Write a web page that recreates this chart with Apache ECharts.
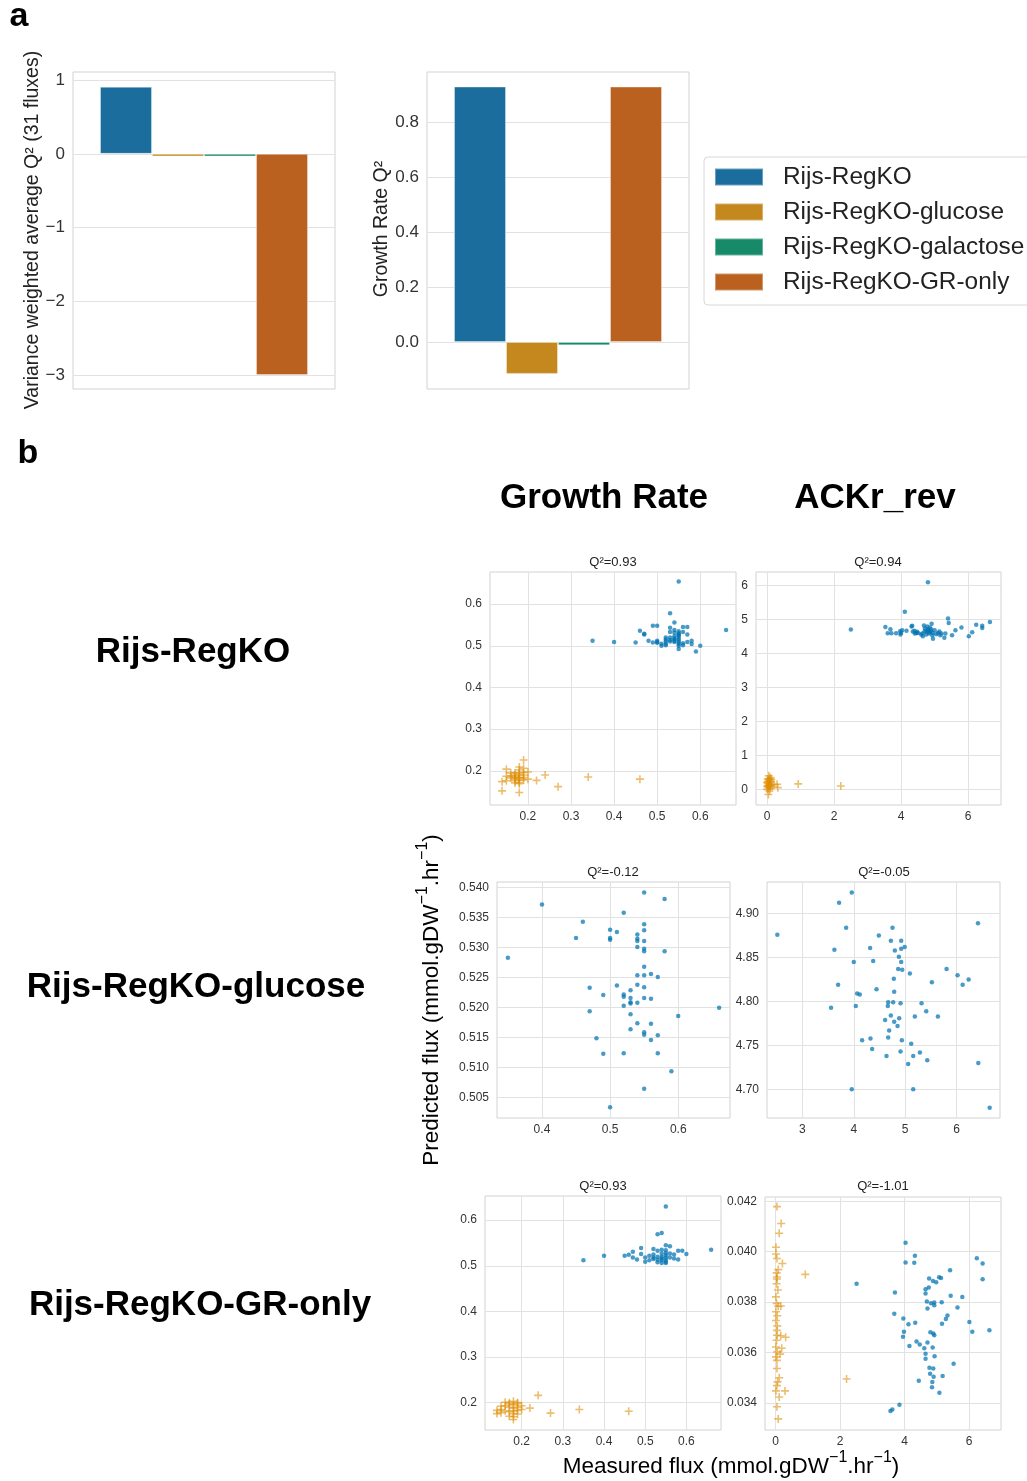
<!DOCTYPE html>
<html><head><meta charset="utf-8">
<script src="https://cdn.jsdelivr.net/npm/echarts@6/dist/echarts.min.js"></script>
<style>html,body{margin:0;padding:0;background:#fff}#c{width:1027px;height:1481px}</style>
</head><body><div id="c"></div>
<script>
// ---------- DATA ----------
const barCategories = ['Rijs-RegKO','Rijs-RegKO-glucose','Rijs-RegKO-galactose','Rijs-RegKO-GR-only'];
const barColors = ['#1a6d9c','#c4881f','#168a69','#ba611f'];
const fluxQ2 = [0.91, -0.035, -0.035, -3.0];
const growthQ2 = [0.929, -0.116, -0.012, 0.929];
const scatterTitles = ['Q²=0.93','Q²=0.94','Q²=-0.12','Q²=-0.05','Q²=0.93','Q²=-1.01'];
const colTitles = ['Growth Rate','ACKr_rev'];
const rowTitles = ['Rijs-RegKO','Rijs-RegKO-glucose','Rijs-RegKO-GR-only'];

const regkoGrowthGlc = [[0.35,0.512],[0.40,0.509],[0.45,0.508],[0.46,0.536],[0.47,0.529],[0.47,0.527],[0.48,0.512],[0.49,0.548],[0.49,0.508],[0.50,0.548],[0.50,0.512],[0.50,0.507],[0.50,0.509],[0.51,0.505],[0.51,0.500],[0.52,0.520],[0.52,0.511],[0.52,0.505],[0.52,0.501],[0.52,0.515],[0.53,0.578],[0.53,0.543],[0.53,0.533],[0.53,0.520],[0.53,0.514],[0.53,0.510],[0.54,0.556],[0.54,0.538],[0.54,0.531],[0.54,0.523],[0.54,0.518],[0.54,0.515],[0.54,0.512],[0.54,0.509],[0.55,0.654],[0.55,0.535],[0.55,0.530],[0.55,0.525],[0.55,0.521],[0.55,0.516],[0.55,0.512],[0.55,0.508],[0.55,0.504],[0.55,0.500],[0.55,0.492],[0.55,0.527],[0.56,0.545],[0.56,0.533],[0.56,0.506],[0.56,0.501],[0.57,0.545],[0.57,0.527],[0.57,0.509],[0.58,0.512],[0.58,0.504],[0.59,0.486],[0.60,0.500],[0.66,0.538]];
const regkoGrowthGal = [[0.19,0.226],[0.15,0.204],[0.18,0.209],[0.18,0.202],[0.19,0.206],[0.20,0.197],[0.17,0.195],[0.16,0.188],[0.15,0.187],[0.14,0.174],[0.15,0.176],[0.17,0.184],[0.18,0.184],[0.19,0.184],[0.20,0.180],[0.18,0.172],[0.17,0.176],[0.22,0.177],[0.24,0.190],[0.27,0.162],[0.14,0.152],[0.18,0.148],[0.34,0.185],[0.46,0.180],[0.16,0.195],[0.17,0.190],[0.17,0.180],[0.18,0.190],[0.18,0.195],[0.18,0.178],[0.19,0.190],[0.19,0.178],[0.17,0.186],[0.18,0.182],[0.16,0.183],[0.19,0.196],[0.18,0.169],[0.17,0.171]];
const regkoAckGlc = [[4.80,6.09],[4.11,5.22],[2.50,4.70],[3.53,4.77],[3.60,4.59],[3.68,4.71],[3.71,4.59],[3.85,4.59],[3.97,4.65],[4.00,4.60],[4.03,4.68],[3.98,4.55],[4.16,4.66],[4.31,4.79],[4.33,4.81],[4.35,4.64],[4.41,4.58],[4.48,4.63],[4.63,4.58],[4.65,4.50],[4.68,4.82],[4.71,4.73],[4.75,4.63],[4.78,4.79],[4.81,4.68],[4.83,4.58],[4.86,4.76],[4.88,4.65],[4.91,4.87],[4.93,4.53],[4.95,4.43],[5.00,4.68],[5.05,4.56],[5.14,4.64],[5.17,4.53],[5.29,4.46],[5.32,4.58],[5.40,5.02],[5.42,4.89],[5.52,4.53],[5.62,4.68],[5.80,4.76],[6.02,4.50],[6.12,4.62],[6.24,4.84],[6.42,4.81],[6.42,4.74],[6.65,4.92],[4.50,4.60],[4.70,4.65],[4.80,4.70],[4.90,4.70],[4.60,4.55],[5.10,4.60],[4.85,4.62],[4.75,4.55],[4.95,4.60],[5.20,4.58],[4.40,4.66],[4.45,4.60]];
const regkoAckGal = [[0.05,0.40],[0.10,0.35],[0.02,0.30],[0.08,0.28],[0.05,0.25],[0.12,0.22],[0.00,0.20],[0.03,0.18],[0.06,0.15],[0.10,0.12],[0.15,0.10],[0.02,0.08],[0.05,0.05],[0.10,0.02],[0.30,0.15],[0.32,0.05],[0.20,0.15],[0.07,-0.05],[0.04,-0.15],[0.00,0.00],[0.08,0.10],[0.12,0.30],[0.04,0.12],[0.93,0.16],[2.20,0.10],[0.03,0.22],[0.06,0.32],[0.01,0.10]];
const glcGrowth = [[0.55,0.5392],[0.58,0.5381],[0.40,0.5372],[0.52,0.5358],[0.46,0.5343],[0.55,0.5339],[0.50,0.5330],[0.55,0.5329],[0.51,0.5326],[0.54,0.5322],[0.45,0.5316],[0.50,0.5316],[0.50,0.5313],[0.54,0.5315],[0.54,0.5311],[0.55,0.5311],[0.54,0.5301],[0.55,0.5298],[0.55,0.5294],[0.58,0.5294],[0.35,0.5283],[0.55,0.5268],[0.54,0.5254],[0.55,0.5254],[0.56,0.5256],[0.57,0.5251],[0.47,0.5233],[0.51,0.5237],[0.54,0.5238],[0.55,0.5234],[0.53,0.5229],[0.49,0.5221],[0.52,0.5222],[0.52,0.5218],[0.53,0.5216],[0.55,0.5216],[0.56,0.5215],[0.53,0.5209],[0.53,0.5207],[0.54,0.5208],[0.52,0.5203],[0.66,0.5200],[0.47,0.5194],[0.60,0.5186],[0.53,0.5189],[0.54,0.5174],[0.56,0.5173],[0.53,0.5164],[0.55,0.5159],[0.55,0.5155],[0.57,0.5154],[0.48,0.5149],[0.56,0.5146],[0.49,0.5123],[0.52,0.5124],[0.57,0.5124],[0.59,0.5094],[0.55,0.5065],[0.50,0.5034]];
const glcAck = [[2.513,4.876],[3.961,4.924],[3.714,4.9125],[3.851,4.884],[4.753,4.884],[4.487,4.875],[6.416,4.889],[4.721,4.869],[4.922,4.869],[4.318,4.861],[4.99,4.862],[3.623,4.859],[4.799,4.858],[4.922,4.860],[4.877,4.851],[4.0,4.845],[4.377,4.846],[4.922,4.845],[4.864,4.837],[4.942,4.836],[5.805,4.837],[5.091,4.832],[6.019,4.830],[6.234,4.825],[4.779,4.826],[5.519,4.822],[6.117,4.819],[3.695,4.819],[4.442,4.814],[4.786,4.811],[4.065,4.809],[4.117,4.808],[4.669,4.799],[4.766,4.799],[4.909,4.798],[5.318,4.798],[3.558,4.793],[4.039,4.795],[4.662,4.795],[5.409,4.789],[4.721,4.784],[5.188,4.783],[5.636,4.783],[4.883,4.781],[4.610,4.779],[4.786,4.777],[4.851,4.772],[4.688,4.767],[4.325,4.758],[4.669,4.759],[4.162,4.756],[4.935,4.756],[5.117,4.752],[4.357,4.746],[4.909,4.743],[5.286,4.742],[4.636,4.738],[5.156,4.738],[5.429,4.733],[5.058,4.729],[6.422,4.730],[3.961,4.700],[5.156,4.700],[6.643,4.679]];
const gronlyGrowthGlc = [[0.55,0.630],[0.53,0.569],[0.54,0.572],[0.35,0.512],[0.40,0.522],[0.45,0.522],[0.46,0.524],[0.47,0.531],[0.47,0.518],[0.48,0.514],[0.49,0.539],[0.49,0.526],[0.50,0.518],[0.50,0.509],[0.51,0.522],[0.51,0.512],[0.52,0.537],[0.52,0.525],[0.52,0.518],[0.52,0.515],[0.53,0.533],[0.53,0.520],[0.53,0.513],[0.53,0.508],[0.54,0.535],[0.54,0.527],[0.54,0.520],[0.54,0.516],[0.54,0.512],[0.54,0.506],[0.55,0.545],[0.55,0.534],[0.55,0.528],[0.55,0.523],[0.55,0.518],[0.55,0.513],[0.55,0.506],[0.55,0.509],[0.56,0.543],[0.56,0.527],[0.56,0.518],[0.57,0.525],[0.57,0.516],[0.58,0.533],[0.58,0.514],[0.59,0.533],[0.60,0.526],[0.66,0.535]];
const gronlyGrowthGal = [[0.24,0.216],[0.22,0.188],[0.27,0.177],[0.34,0.185],[0.46,0.181],[0.14,0.176],[0.14,0.183],[0.15,0.185],[0.15,0.192],[0.16,0.201],[0.16,0.182],[0.17,0.197],[0.17,0.190],[0.17,0.180],[0.17,0.170],[0.18,0.203],[0.18,0.195],[0.18,0.188],[0.18,0.182],[0.18,0.176],[0.18,0.169],[0.18,0.163],[0.19,0.198],[0.19,0.190],[0.19,0.183],[0.19,0.175],[0.20,0.193],[0.20,0.185],[0.16,0.193],[0.17,0.200],[0.15,0.178],[0.19,0.200]];
const gronlyAckGlc = [[4.03,0.04036],[4.03,0.03957],[4.32,0.03984],[4.30,0.03956],[6.24,0.03974],[6.42,0.03953],[6.42,0.03891],[5.41,0.03927],[5.07,0.03899],[5.13,0.03896],[4.76,0.03894],[4.88,0.03884],[4.98,0.03879],[2.51,0.03873],[3.70,0.03838],[4.65,0.03851],[4.75,0.03858],[4.65,0.03834],[5.43,0.03825],[5.79,0.03820],[4.69,0.03803],[4.82,0.03796],[4.92,0.03799],[4.92,0.03788],[5.15,0.03800],[4.71,0.03775],[5.64,0.03779],[3.68,0.03754],[5.33,0.03747],[5.28,0.03733],[3.96,0.03735],[4.33,0.03718],[4.12,0.03712],[5.16,0.03714],[6.01,0.03721],[6.10,0.03683],[6.63,0.03689],[3.98,0.03683],[4.80,0.03681],[4.89,0.03676],[4.92,0.03669],[3.95,0.03663],[4.37,0.03644],[4.71,0.03640],[4.47,0.03632],[4.15,0.03626],[4.87,0.03620],[4.61,0.03617],[4.65,0.03595],[4.93,0.03585],[4.65,0.03576],[5.52,0.03556],[4.77,0.03540],[4.89,0.03537],[4.79,0.03516],[5.18,0.03507],[4.90,0.03504],[4.44,0.03488],[4.86,0.03483],[4.85,0.03463],[5.08,0.03441],[3.84,0.03393],[3.62,0.03374],[3.56,0.03368]];
const gronlyAckGal = [[0.04,0.04179],[0.17,0.04112],[0.11,0.04073],[0.01,0.04018],[0.01,0.03991],[0.04,0.03973],[0.21,0.03953],[0.92,0.03910],[0.08,0.03929],[0.03,0.03916],[0.04,0.03900],[0.04,0.03892],[0.03,0.03873],[0.07,0.03848],[0.01,0.03821],[0.03,0.03795],[0.08,0.03784],[0.16,0.03785],[0.01,0.03762],[0.05,0.03746],[0.01,0.03727],[0.05,0.03706],[0.04,0.03688],[0.04,0.03669],[0.16,0.03667],[0.31,0.03661],[0.03,0.03649],[0.01,0.03622],[0.19,0.03617],[0.05,0.03603],[0.14,0.03594],[0.01,0.03583],[0.04,0.03569],[0.04,0.03537],[2.20,0.03495],[0.11,0.03500],[0.06,0.03484],[0.04,0.03469],[0.01,0.03448],[0.29,0.03448],[0.11,0.03424],[0.04,0.03385],[0.08,0.03337]];

// tick label values
const fluxTicks = [-3,-2,-1,0,1];
const growthBarTicks = [0,0.2,0.4,0.6,0.8];
const grTicks = [0.2,0.3,0.4,0.5,0.6];
const ackTicks = [0,2,4,6];
const ackTicksY = [0,1,2,3,4,5,6];
const glcGrXTicks = [0.4,0.5,0.6];
const glcGrYTicks = [0.505,0.510,0.515,0.520,0.525,0.530,0.535,0.540];
const glcAckXTicks = [3,4,5,6];
const glcAckYTicks = [4.70,4.75,4.80,4.85,4.90];
const gronlyAckYTicks = [0.034,0.036,0.038,0.040,0.042];

// ---------- LAYOUT ----------
const FONT = "'Liberation Sans', Arial, Helvetica, sans-serif";
const SPINE = '#d2d2d2', GRIDC = '#e2e2e2', TXT = '#333';
const BLUE = 'rgba(1,115,178,0.9)', ORANGE = 'rgba(222,143,5,0.72)';
const PLUS = 'path://M4,0H6V4H10V6H6V10H4V6H0V4H4Z';

const grids = [
  {left:73, top:72, width:262, height:317},
  {left:427, top:72, width:262, height:317},
  {left:490, top:572, width:246, height:233},
  {left:756, top:572, width:245, height:233},
  {left:497, top:882, width:233, height:236},
  {left:767, top:882, width:233, height:236},
  {left:485, top:1196, width:236, height:234},
  {left:765, top:1197, width:236, height:233}
].map(g => Object.assign({show:true, borderColor:SPINE, borderWidth:1, backgroundColor:'#fff', containLabel:false}, g));

function valAxis(gi, min, max, ticks, fmt, fs, margin, split) {
  return {
    type:'value', gridIndex:gi, min:min, max:max, scale:true,
    axisLine:{show:false},
    axisTick:{show:false, customValues:ticks},
    axisLabel:{customValues:ticks, formatter:fmt, fontSize:fs, color:TXT, fontFamily:FONT, margin:margin},
    splitLine:{show:split, lineStyle:{color:GRIDC, width:1}}
  };
}
const f1 = v => v.toFixed(1), f0 = v => String(Math.round(v)), f2 = v => v.toFixed(2), f3 = v => v.toFixed(3);
const fMinus = v => (v < 0 ? '\u2212' + Math.abs(v) : String(v));

const xAxes = [
  {type:'category', gridIndex:0, data:[''], axisLine:{show:false}, axisTick:{show:false}, axisLabel:{show:false}, splitLine:{show:false}},
  {type:'category', gridIndex:1, data:[''], axisLine:{show:false}, axisTick:{show:false}, axisLabel:{show:false}, splitLine:{show:false}},
  valAxis(2, 0.112, 0.683, grTicks, f1, 12, 6, true),
  valAxis(3, -0.33, 6.98, ackTicks, f0, 12, 6, true),
  valAxis(4, 0.334, 0.676, glcGrXTicks, f1, 12, 6, true),
  valAxis(5, 2.312, 6.844, glcAckXTicks, f0, 12, 6, true),
  valAxis(6, 0.111, 0.684, grTicks, f1, 12, 6, true),
  valAxis(7, -0.33, 6.99, ackTicks, f0, 12, 6, true)
];
const yAxes = [
  valAxis(0, -3.19, 1.11, fluxTicks, fMinus, 17, 8, true),
  valAxis(1, -0.171, 0.982, growthBarTicks, f1, 17, 8, true),
  valAxis(2, 0.118, 0.677, grTicks, f1, 12, 8, true),
  valAxis(3, -0.46, 6.39, ackTicksY, f0, 12, 8, true),
  valAxis(4, 0.50161, 0.54094, glcGrYTicks, f3, 12, 8, true),
  valAxis(5, 4.6674, 4.936, glcAckYTicks, f2, 12, 8, true),
  valAxis(6, 0.140, 0.653, grTicks, f1, 12, 8, true),
  valAxis(7, 0.03293, 0.04217, gronlyAckYTicks, f3, 12, 8, true)
];

const series = [];
[fluxQ2, growthQ2].forEach((vals, gi) => {
  barCategories.forEach((name, i) => {
    series.push({type:'bar', name:name, xAxisIndex:gi, yAxisIndex:gi, data:[vals[i]], barWidth:52, barGap:'0%',
      itemStyle:{color:barColors[i], borderColor:'rgba(255,255,255,0.35)', borderWidth:1}, silent:true});
  });
});
function sc(idx, data, orange) {
  series.push({type:'scatter', name: orange ? 'gal' : 'glc', xAxisIndex:idx, yAxisIndex:idx, data:data, silent:true,
    symbol: orange ? PLUS : 'circle', symbolSize: orange ? 8 : 4.5,
    itemStyle:{color: orange ? ORANGE : BLUE}});
}
sc(2, regkoGrowthGlc, false); sc(2, regkoGrowthGal, true);
sc(3, regkoAckGlc, false); sc(3, regkoAckGal, true);
sc(4, glcGrowth, false);
sc(5, glcAck, false);
sc(6, gronlyGrowthGlc, false); sc(6, gronlyGrowthGal, true);
sc(7, gronlyAckGlc, false); sc(7, gronlyAckGal, true);

// ---------- TEXT ----------
const T = (text, x, y, opt) => ({type:'text', x:x, y:y, rotation:(opt&&opt.rot)||0, silent:true,
  style:Object.assign({text:text, fill:'#000', font:'normal 12px ' + FONT, align:'center', verticalAlign:'middle'}, (opt&&opt.style)||{})});
const bold = sz => ({font:'bold ' + sz + 'px ' + FONT});
const graphics = [
  T('a', 19, 17, {style:bold(34)}),
  T('b', 28, 454, {style:bold(34)}),
  T('Variance weighted average Q² (31 fluxes)', 33, 230, {rot:Math.PI/2, style:{font:'19.5px ' + FONT, fill:'#222'}}),
  T('Growth Rate Q²', 382, 229, {rot:Math.PI/2, style:{font:'19.5px ' + FONT, fill:'#222'}}),
  T(colTitles[0], 604, 498, {style:bold(35)}),
  T(colTitles[1], 875, 498, {style:bold(35)}),
  T(rowTitles[0], 193, 652, {style:bold(35)}),
  T(rowTitles[1], 196, 987, {style:bold(35)}),
  T(rowTitles[2], 200, 1305, {style:bold(35)})
];
const titleCenters = [[613,562],[878,562],[613,872],[884,872],[603,1186],[883,1186]];
scatterTitles.forEach((t, i) => graphics.push(T(t, titleCenters[i][0], titleCenters[i][1], {style:{font:'13px ' + FONT, fill:'#222'}})));
const richLab = {a:{fontSize:22.5, fontFamily:FONT, color:'#222', lineHeight:28, verticalAlign:'bottom'}, s:{fontSize:16, fontFamily:FONT, color:'#222', lineHeight:28, verticalAlign:'top'}};
graphics.push(T('{a|Predicted flux (mmol.gDW}{s|\u22121}{a|.hr}{s|\u22121}{a|)}', 429, 1000, {rot:Math.PI/2, style:{rich:richLab}}));
graphics.push(T('{a|Measured flux (mmol.gDW}{s|\u22121}{a|.hr}{s|\u22121}{a|)}', 731, 1464, {style:{rich:richLab}}));

const chart = echarts.init(document.getElementById('c'), null, {renderer:'canvas'});
chart.setOption({
  animation:false,
  backgroundColor:'#fff',
  textStyle:{fontFamily:FONT},
  legend:{data:barCategories, orient:'vertical', left:704, top:157, itemWidth:48, itemHeight:17, itemGap:11,
    icon:'rect', selectedMode:false, padding:[8,14,11,10], borderColor:'#d8d8d8', borderWidth:1, borderRadius:4,
    textStyle:{fontSize:24.4, color:'#222', fontFamily:FONT, padding:[0,0,0,15]}},
  grid:grids, xAxis:xAxes, yAxis:yAxes, series:series, graphic:graphics
});
</script></body></html>
